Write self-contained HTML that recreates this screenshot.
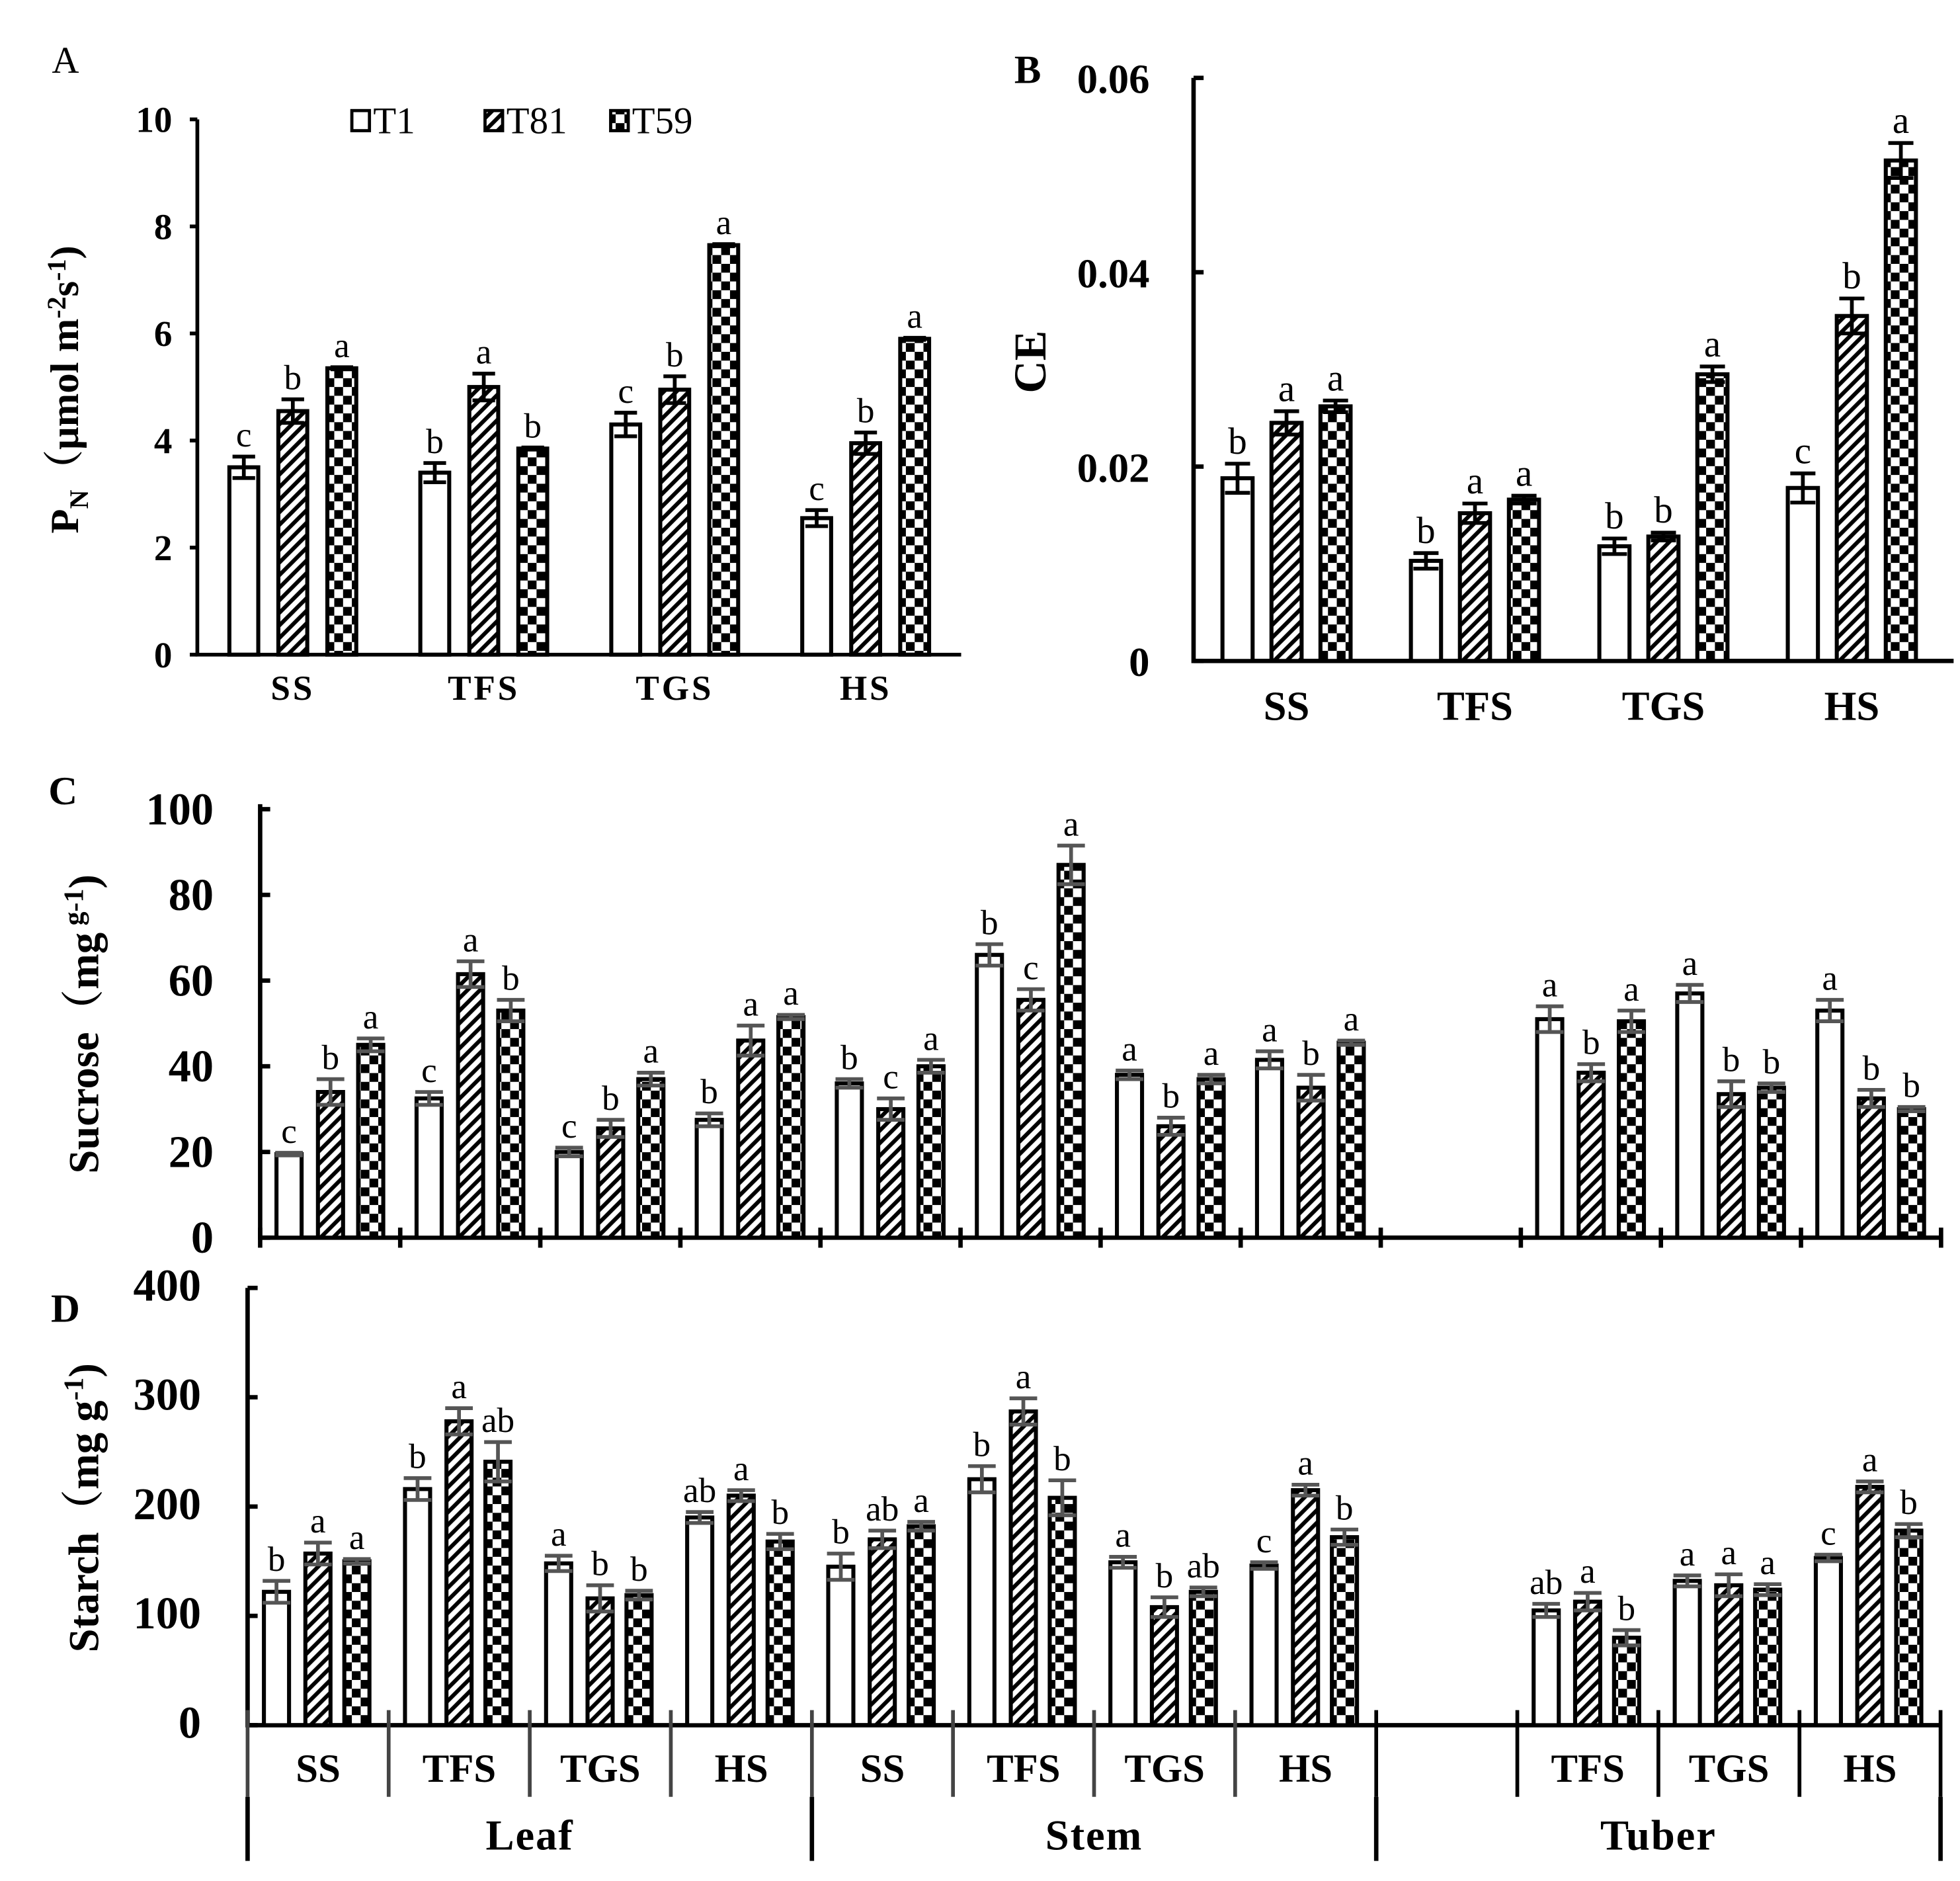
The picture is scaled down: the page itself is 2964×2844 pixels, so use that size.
<!DOCTYPE html>
<html><head><meta charset="utf-8"><style>
html,body{margin:0;padding:0;background:#fff;}
svg{display:block;}
text{font-family:"Liberation Serif","Noto Serif CJK SC",serif;}
</style></head><body>
<svg id="fig" width="2964" height="2844" viewBox="0 0 1560 1497" xmlns="http://www.w3.org/2000/svg">
<defs>
<pattern id="hatch" patternUnits="userSpaceOnUse" width="10" height="10">
<rect width="10" height="10" fill="#fff"/>
<path d="M-2,12 L12,-2 M-2,2 L2,-2 M8,12 L12,8" stroke="#000" stroke-width="3.2"/>
</pattern>
<pattern id="check" patternUnits="userSpaceOnUse" width="14" height="14">
<rect width="14" height="14" fill="#fff"/>
<rect x="0" y="0" width="7" height="7" fill="#000"/>
<rect x="7" y="7" width="7" height="7" fill="#000"/>
</pattern>
</defs>
<g id="layer"></g>
</svg>
<script>
// ---- Panel A data ----
const aCats = ["SS","TFS","TGS","HS"];
const aT1 = [3.5,3.4,4.3,2.55];
const aT81 = [4.55,5.0,4.95,3.95];
const aT59 = [5.35,3.85,7.65,5.9];
const aE1 = [0.2,0.18,0.22,0.15];
const aE81 = [0.22,0.25,0.25,0.2];
const aE59 = [0.02,0.02,0.02,0.02];
const aL1 = ["c","b","c","c"];
const aL81 = ["b","a","b","b"];
const aL59 = ["a","b","a","a"];
const aTicks = [0,2,4,6,8,10];
// ---- Panel B data ----
const bCats = ["SS","TFS","TGS","HS"];
const bT1 = [0.0188,0.0103,0.0118,0.0178];
const bT81 = [0.0245,0.0152,0.0128,0.0355];
const bT59 = [0.0262,0.0166,0.0295,0.0515];
const bE1 = [0.0015,0.0008,0.0008,0.0015];
const bE81 = [0.0012,0.001,0.0004,0.0018];
const bE59 = [0.0006,0.0004,0.0008,0.0018];
const bL1 = ["b","b","b","c"];
const bL81 = ["a","a","b","b"];
const bL59 = ["a","a","a","a"];
const bTicks = [0,0.02,0.04,0.06];
const bTickLabels = ["0","0.02","0.04","0.06"];
// ---- Panel C data (12 slots, slot 8 empty) ----
const cdCats = ["SS","TFS","TGS","HS","SS","TFS","TGS","HS","","TFS","TGS","HS"];
const cT1 = [19.5,32.5,20,27.5,36,66,38,41.5,null,51,57,53];
const cT81 = [34,61.5,25.5,46,30,55.5,26,35,null,38.5,33.5,32.5];
const cT59 = [45,53,37,51.5,40,87,37,45.5,null,50.5,35,30];
const cE1 = [0.3,1.5,1,1.5,1,2.5,1,2,null,3,2,2.5];
const cE81 = [3,3,2,3.5,2.5,2.5,2,3,null,2,3,2];
const cE59 = [1.5,2.5,1.5,0.5,1.5,4.5,1,0.5,null,2.5,1,0.5];
const cL1 = ["c","c","c","b","b","b","a","a","","a","a","a"];
const cL81 = ["b","a","b","a","c","c","b","b","","b","b","b"];
const cL59 = ["a","b","a","a","a","a","a","a","","a","b","b"];
const cTicks = [0,20,40,60,80,100];
// ---- Panel D data ----
const dT1 = [122,216,148,190,145,225,149,146,null,105,132,153];
const dT81 = [157,278,116,210,170,287,108,215,null,113,128,218];
const dT59 = [150,241,119,168,182,208,122,172,null,80,124,178];
const dE1 = [10,10,7,5,12,12,5,3,null,6,5,3];
const dE81 = [10,12,12,5,8,12,9,5,null,8,10,5];
const dE59 = [2,18,4,7,4,16,4,7,null,7,5,6];
const dL1 = ["b","b","a","ab","b","b","a","c","","ab","a","c"];
const dL81 = ["a","a","b","a","ab","a","b","a","","a","a","a"];
const dL59 = ["a","ab","b","b","a","b","ab","b","","b","a","b"];
const dTicks = [0,100,200,300,400];
const organs = ["Leaf","Stem","Tuber"];

const NS="http://www.w3.org/2000/svg";
const layer=document.getElementById('layer');
function el(tag,attrs,parent){const e=document.createElementNS(NS,tag);for(const k in attrs)e.setAttribute(k,attrs[k]);(parent||layer).appendChild(e);return e;}
function txt(s,x,y,size,bold,anchor,parent){const t=el('text',{x:x,y:y,'font-size':size,'text-anchor':anchor||'middle'},parent);if(bold)t.setAttribute('font-weight','bold');t.textContent=s;return t;}
const fills=["#fff","url(#hatch)","url(#check)"];

function drawBars(g,vals,errs,lets,xOf,yOf,w,errColor,capW,letSize,series){
  for(let i=0;i<vals.length;i++){
    if(vals[i]===null)continue;
    const cx=xOf(i),top=yOf(vals[i]),base=yOf(0);
    const r=el('rect',{x:cx-w/2,y:top,width:w,height:base-top,fill:fills[series],stroke:'#000','stroke-width':3.2},g);
    
    
    const et=yOf(vals[i]+errs[i]),eb=yOf(vals[i]-errs[i]);
    const e=el('path',{d:`M${cx},${et}V${eb}M${cx-capW/2},${et}H${cx+capW/2}M${cx-capW/2},${eb}H${cx+capW/2}`,stroke:errColor,'stroke-width':3,fill:'none'},g);
    
    
    const l=txt(lets[i],cx,et-8,letSize,false,'middle',g);
    
    
  }
}

// ---- Panel A ----
(function(){
  const g=el('g',{});
  
  
  const y0=521,yTop=95,x0=157,x1=765,max=10;
  const yOf=v=>y0-(v/max)*(y0-yTop);
  el('path',{d:`M${x0},${yTop}V${y0}H${x1}`,stroke:'#000','stroke-width':3,fill:'none'},g);
  aTicks.forEach(t=>{el('path',{d:`M${x0-6},${yOf(t)}H${x0}`,stroke:'#000','stroke-width':3},g);txt(String(t),x0-20,yOf(t)+10,29,true,'end',g);});
  const cen=i=>233+152*i;
  [[aT1,aE1,aL1],[aT81,aE81,aL81],[aT59,aE59,aL59]].forEach((s,k)=>drawBars(g,s[0],s[1],s[2],i=>cen(i)+(k-1)*39,yOf,23,'#000',18,28,k));
  aCats.forEach((c,i)=>{const t=txt(c,cen(i),557,28,true,'middle',g);t.setAttribute('letter-spacing','2');});
  txt("A",52,58,30,false,'middle',g);
  const yl=el('text',{transform:'translate(62,310) rotate(-90)','font-size':32,'font-weight':'bold','text-anchor':'middle'},g);
  
  
  yl.innerHTML='P<tspan font-size="21" dy="8">N</tspan><tspan dy="-8">（μmol m</tspan><tspan font-size="21" dy="-10">-2</tspan><tspan dy="10">s</tspan><tspan font-size="21" dy="-10">-1</tspan><tspan dy="10">)</tspan>';
  const lg=el('g',{},g);
  
  
  const items=[["T1",280],["T81",386],["T59",486]];
  items.forEach((it,k)=>{el('rect',{x:it[1],y:88,width:14,height:16,fill:fills[k],stroke:'#000','stroke-width':2.5},lg);txt(it[0],it[1]+17,106,30,false,'start',lg);});
})();

// ---- Panel B ----
(function(){
  const g=el('g',{});
  
  
  const y0=526,yTop=62,x0=950,x1=1555,max=0.06;
  const yOf=v=>y0-(v/max)*(y0-yTop);
  el('path',{d:`M${x0},${yTop}V${y0}H${x1}`,stroke:'#000','stroke-width':3.5,fill:'none'},g);
  bTicks.forEach((t,i)=>{el('path',{d:`M${x0},${yOf(t)}H${x0+8}`,stroke:'#000','stroke-width':3.5},g);txt(bTickLabels[i],915,yOf(t)+12,33,true,'end',g);});
  const cen=i=>1024+150*i;
  [[bT1,bE1,bL1],[bT81,bE81,bL81],[bT59,bE59,bL59]].forEach((s,k)=>drawBars(g,s[0],s[1],s[2],i=>cen(i)+(k-1)*39,yOf,24,'#000',20,30,k));
  bCats.forEach((c,i)=>txt(c,cen(i),573,33,true,'middle',g));
  txt("B",818,66,32,true,'middle',g);
  const yl=txt("CE",0,0,36,true,'middle',g);
  yl.setAttribute('transform','translate(832,288) rotate(-90)');
  
  
})();

// ---- Panel C ----
(function(){
  const g=el('g',{});
  
  
  const y0=985,yTop=644,x0=207,cw=111.5,max=100;
  const yOf=v=>y0-(v/max)*(y0-yTop);
  el('path',{d:`M${x0},${yTop-4}V${y0}H${x0+cw*12}`,stroke:'#000','stroke-width':3.5,fill:'none'},g);
  cTicks.forEach(t=>{el('path',{d:`M${x0},${yOf(t)}H${x0+8}`,stroke:'#000','stroke-width':3.5},g);txt(String(t),170,yOf(t)+12,36,true,'end',g);});
  for(let i=0;i<=12;i++)el('path',{d:`M${x0+cw*i},${y0-8}V${y0+8}`,stroke:'#000','stroke-width':3.5},g);
  const off=[23,56,88];
  [[cT1,cE1,cL1],[cT81,cE81,cL81],[cT59,cE59,cL59]].forEach((s,k)=>drawBars(g,s[0],s[1],s[2],i=>x0+cw*i+off[k],yOf,20,'#555',22,28,k));
  txt("C",50,640,32,true,'middle',g);
  const yl=el('text',{transform:'translate(78,815) rotate(-90)','font-size':34,'font-weight':'bold','text-anchor':'middle'},g);
  
  
  yl.innerHTML='Sucrose（mg<tspan font-size="22" dy="-12"> g-1</tspan><tspan dy="12">)</tspan>';
})();

// ---- Panel D ----
(function(){
  const g=el('g',{});
  
  
  const y0=1373,yTop=1025,x0=197,cw=112.3,max=400;
  const yOf=v=>y0-(v/max)*(y0-yTop);
  el('path',{d:`M${x0},${yTop}V${y0}H${x0+cw*12}`,stroke:'#000','stroke-width':3.5,fill:'none'},g);
  dTicks.forEach(t=>{el('path',{d:`M${x0},${yOf(t)}H${x0+8}`,stroke:'#000','stroke-width':3.5},g);txt(String(t),160,yOf(t)+10,36,true,'end',g);});
  const off=[23,56,87];
  [[dT1,dE1,dL1],[dT81,dE81,dL81],[dT59,dE59,dL59]].forEach((s,k)=>drawBars(g,s[0],s[1],s[2],i=>x0+cw*i+off[k],yOf,20,'#555',22,28,k));
  for(let i=0;i<=12;i++){
    const x=x0+cw*i;
    el('path',{d:`M${x},${y0-12}V${1430}`,stroke:(i>=8?'#000':'#444'),'stroke-width':3},g);
    if(cdCats[i]){const t=txt(cdCats[i],x+cw/2,1418,32,true,'middle',g);}
  }
  for(let j=0;j<4;j++){const x=x0+cw*4*j;el('path',{d:`M${x},1430V1481`,stroke:'#000','stroke-width':3.5},g);}
  organs.forEach((o,j)=>{const t=txt(o,x0+cw*4*j+cw*2,1472,34,true,'middle',g);t.setAttribute('letter-spacing','1');});
  txt("D",52,1052,32,true,'middle',g);
  const yl=el('text',{transform:'translate(78,1200) rotate(-90)','font-size':34,'font-weight':'bold','text-anchor':'middle'},g);
  
  
  yl.innerHTML='Starch（mg g<tspan font-size="22" dy="-12">-1</tspan><tspan dy="12">)</tspan>';
})();
</script>
</body></html>
